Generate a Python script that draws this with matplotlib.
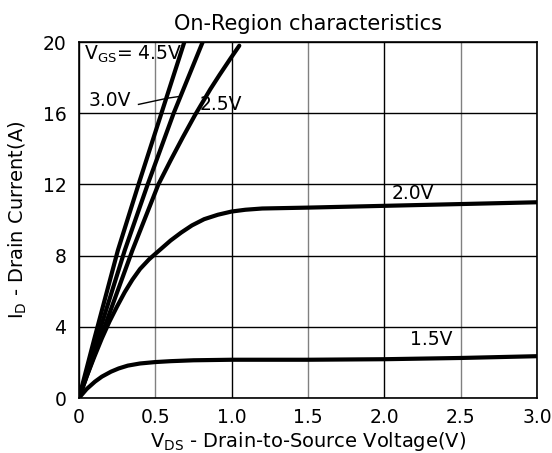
import matplotlib.pyplot as plt
import numpy as np

plt.rcParams['font.family'] = ['DejaVu Sans']

# on-region curves (VDS in V, ID in A)
vds_45 = [0, 0.1, 0.255, 0.39, 0.54, 0.69, 0.72]
id_45 = [0, 3.3, 8.3, 12.0, 16.0, 20.0, 20.8]
vds_30 = [0, 0.1, 0.3, 0.45, 0.62, 0.81, 0.84]
id_30 = [0, 2.8, 8.3, 12.0, 16.0, 20.0, 20.6]
vds_25 = [0, 0.1, 0.35, 0.52, 0.6, 0.68, 0.76, 0.86, 0.92, 0.99, 1.05]
id_25 = [0, 2.4, 8.3, 12.0, 13.35, 14.65, 15.9, 17.35, 18.15, 19.05, 19.8]
vds_20 = [0, 0.05, 0.1, 0.15, 0.2, 0.25, 0.3, 0.35, 0.4, 0.46, 0.52, 0.6, 0.67, 0.74, 0.82, 0.91, 1.0, 1.09, 1.2, 1.5, 2.0, 2.5, 3.0]
id_20 = [0, 1.2, 2.3, 3.35, 4.3, 5.15, 5.95, 6.65, 7.25, 7.8, 8.25, 8.85, 9.3, 9.7, 10.05, 10.3, 10.48, 10.58, 10.65, 10.7, 10.8, 10.9, 11.0]
vds_15 = [0, 0.05, 0.105, 0.15, 0.21, 0.26, 0.32, 0.4, 0.5, 0.6, 0.75, 1.0, 1.5, 2.0, 2.5, 3.0]
id_15 = [0, 0.5, 0.92, 1.2, 1.48, 1.66, 1.82, 1.94, 2.02, 2.07, 2.12, 2.15, 2.15, 2.18, 2.25, 2.35]

xticks = [0, 0.5, 1.0, 1.5, 2.0, 2.5, 3.0]
xlabels = ['0', '0.5', '1.0', '1.5', '2.0', '2.5', '3.0']
yticks = [0, 4, 8, 12, 16, 20]

fig = plt.figure(figsize=(5.52, 4.53), dpi=100)
ax = fig.add_axes([0.143, 0.1214, 0.83, 0.7856])

for x, y in [(vds_45, id_45), (vds_30, id_30), (vds_25, id_25), (vds_20, id_20), (vds_15, id_15)]:
    ax.plot(x, y, color='black', lw=3, solid_capstyle='round', solid_joinstyle='round', zorder=3)

ax.set_xlim(0, 3.0)
ax.set_ylim(0, 20)
ax.set_xticks(xticks)
ax.set_xticklabels(xlabels)
ax.set_yticks(yticks)
ax.tick_params(length=0, labelsize=13.5)
ax.tick_params(axis='x', pad=7)
ax.tick_params(axis='y', pad=9)
ax.grid(True, color='black', lw=1)
for i, gl in enumerate(ax.xaxis.get_gridlines()):
    if xticks[i] in (0.5, 1.5, 2.5):
        gl.set_color('#808080')
for s in ax.spines.values():
    s.set_linewidth(1.2)

ax.text(0.03, 19.3, r'V$_{\mathregular{GS}}$= 4.5V', fontsize=13.5, va='center', ha='left')
ax.text(0.06, 16.7, '3.0V', fontsize=13.5, va='center', ha='left')
ax.plot([0.39, 0.58, 0.66], [16.5, 16.85, 16.95], color='black', lw=1)
ax.text(0.79, 16.5, '2.5V', fontsize=13.5, va='center', ha='left')
ax.text(2.05, 11.5, '2.0V', fontsize=13.5, va='center', ha='left')
ax.text(2.17, 3.3, '1.5V', fontsize=13.5, va='center', ha='left')

ax.set_title('On-Region characteristics', fontsize=15, pad=9)
ax.set_xlabel(r'V$_{\mathregular{DS}}$ - Drain-to-Source Voltage(V)', fontsize=14, labelpad=2)
ax.set_ylabel(r'I$_{\mathregular{D}}$ - Drain Current(A)', fontsize=14, labelpad=10)

fig.savefig('out.png', dpi=100)
